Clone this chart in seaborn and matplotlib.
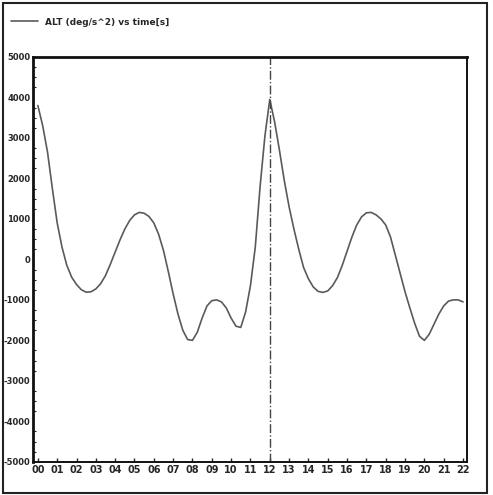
import numpy as np
import pandas as pd
import seaborn as sns
import matplotlib.pyplot as plt
from matplotlib.patches import Rectangle
from matplotlib.ticker import MultipleLocator

# values (time step 0.25)
time_s = [i * 0.25 for i in range(89)]
alt_acc = [3800, 3300, 2650, 1750, 900, 300, -150, -440,
           -620, -750, -810, -800, -730, -600, -400, -120,
           180, 480, 750, 960, 1100, 1160, 1140, 1060,
           900, 620, 220, -300, -850, -1350, -1750, -1980,
           -2000, -1800, -1450, -1150, -1020, -1000, -1050, -1200,
           -1450, -1650, -1680, -1300, -650, 300, 1800, 3050,
           3950, 3400, 2700, 1950, 1300, 750, 250, -200,
           -480, -680, -790, -815, -780, -650, -450, -150,
           200, 550, 850, 1050, 1150, 1160, 1100, 1000,
           850, 550, 100, -350, -800, -1200, -1580, -1900,
           -2000, -1850, -1600, -1350, -1150, -1030, -1000, -1000,
           -1050]
x_ticks = list(range(0, 23))
x_labels = [f"{i:02d}" for i in x_ticks]
y_ticks = [5000, 4000, 3000, 2000, 1000, 0, -1000, -2000, -3000, -4000, -5000]
marker_time = 12.0

df = pd.DataFrame({"time": time_s, "alt": alt_acc})

sns.set_style("white")
plt.rcParams['font.family'] = ['DejaVu Sans']

fig = plt.figure(figsize=(4.93, 4.95), dpi=100)
ax = fig.add_axes([0.067, 0.067, 0.88, 0.818])

sns.lineplot(data=df, x="time", y="alt", ax=ax, color="#5a5a5a", linewidth=1.2,
             label="ALT (deg/s^2) vs time[s]")
ax.axvline(marker_time, color="#444444", linewidth=1.0, linestyle="-.")

ax.set_xlim(-0.25, 22.2)
ax.set_ylim(-5000, 5000)
ax.set_xticks(x_ticks)
ax.set_xticklabels(x_labels, fontsize=7, fontweight="bold")
ax.set_yticks(y_ticks)
ax.set_yticklabels([str(v) for v in y_ticks], fontsize=6, fontweight="bold")
ax.yaxis.set_minor_locator(MultipleLocator(250))
ax.tick_params(axis="both", which="major", direction="in", length=3, width=1, pad=2)
ax.tick_params(axis="y", which="minor", direction="in", length=2, width=0.8, left=True)
ax.tick_params(axis="x", bottom=True)
ax.set_xlabel("")
ax.set_ylabel("")
for side in ["left", "top"]:
    ax.spines[side].set_linewidth(2.0)
for side in ["right", "bottom"]:
    ax.spines[side].set_linewidth(1.4)
for s in ax.spines.values():
    s.set_color("#111111")

leg = ax.legend(loc="center left", bbox_to_anchor=(-0.06, 1.086), frameon=False,
                fontsize=6.5, handlelength=3, borderaxespad=0)
for t in leg.get_texts():
    t.set_fontweight("bold")

fig.patches.append(Rectangle((0.006, 0.004), 0.982, 0.99, transform=fig.transFigure,
                             fill=False, edgecolor="#222222", linewidth=1.5))

fig.savefig("out.png", dpi=100)
